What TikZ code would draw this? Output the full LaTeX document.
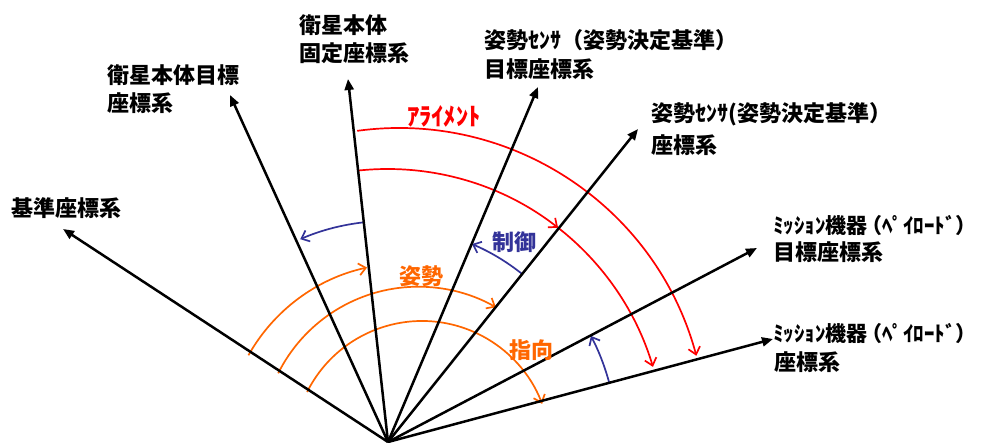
\documentclass[tikz,border=0pt]{standalone}
\usepackage{fontspec}
\newfontfamily\jp{Noto Sans CJK JP}
\usetikzlibrary{arrows.meta}
\definecolor{arcred}{RGB}{255,0,0}
\definecolor{arcorange}{RGB}{255,102,0}
\definecolor{arcblue}{RGB}{51,51,153}
\begin{document}
\begin{tikzpicture}[x=1pt,y=1pt,
  ray/.style={line width=2.5pt,-{Triangle[length=11pt,width=9pt]}},
  arcline/.style={line width=1.7pt,-{Straight Barb[length=7pt,width=12pt,line width=1.7pt]}},
  lbl/.style={font=\jp\bfseries\fontsize{22}{26}\selectfont,inner sep=0pt,anchor=base west},
  mlbl/.style={lbl,font=\jp\bfseries\fontsize{21}{25}\selectfont},
  clbl/.style={lbl}]
\useasboundingbox (0,0) rectangle (984,443);
% origin and ray tips
\coordinate (O) at (388,1);
\coordinate (t1) at (63,214);
\coordinate (t2) at (230,348);
\coordinate (t3) at (348,364);
\coordinate (t4) at (538,356);
\coordinate (t5) at (638,314);
\coordinate (t6) at (757,195);
\coordinate (t7) at (773,104);
% arc centres
\coordinate (cRo) at (399,7);
\coordinate (cRi) at (387.5,-3);
\coordinate (cA) at (405.4,-0.4);
\coordinate (cB) at (418.3,-0.4);
\coordinate (cC) at (422,-6.5);
% red arcs
\draw[arcline,arcred] ([shift={(97.8:308pt)}]cRo) arc[start angle=97.8,end angle=15.1,radius=308pt];
\draw[arcline,arcred] ([shift={(96.3:277pt)}]cRi) arc[start angle=96.3,end angle=52,radius=277pt];
\draw[arcline,arcred] ([shift={(52:277pt)}]cRi) arc[start angle=52,end angle=16.6,radius=277pt];
% blue arcs
\draw[arcline,arcblue] ([shift={(96.5:221pt)}]O) arc[start angle=96.5,end angle=113.4,radius=221pt];
\draw[arcline,arcblue] ([shift={(51.5:215pt)}]O) arc[start angle=51.5,end angle=67,radius=215pt];
\draw[arcline,arcblue] ([shift={(14.8:229pt)}]O) arc[start angle=14.8,end angle=27.6,radius=229pt];
% orange arcs
\draw[arcline,arcorange] ([shift={(150.7:180pt)}]cA) arc[start angle=150.7,end angle=102.3,radius=180pt];
\draw[arcline,arcorange] ([shift={(153.4:156.7pt)}]cB) arc[start angle=153.4,end angle=60.3,radius=156.7pt];
\draw[arcline,arcorange] ([shift={(153.4:128.5pt)}]cC) arc[start angle=153.4,end angle=20.8,radius=128.5pt];
% rays
\foreach \t in {t1,t2,t3,t4,t5,t6,t7} \draw[ray] (O) -- (\t);
% labels
\node[lbl] (L1) at (11,226.5) {基準座標系};
\node[lbl] (L2a) at (107,359.5) {衛星本体目標};
\node[lbl] (L2b) at (107,331.5) {座標系};
\node[lbl] (L3a) at (299,409.5) {衛星本体};
\node[lbl] (L3b) at (299,381.5) {固定座標系};
\node[lbl] (L4a) at (484,394.5) {姿勢ｾﾝｻ（姿勢決定基準）};
\node[lbl] (L4b) at (484,365.5) {目標座標系};
\node[lbl] (L5a) at (651,321.5) {姿勢ｾﾝｻ(姿勢決定基準）};
\node[lbl] (L5b) at (651,289.5) {座標系};
\node[mlbl] (L6a) at (773,209) {ﾐｯｼｮﾝ機器\kern-0.3em（ﾍﾟｲﾛｰﾄﾞ）};
\node[lbl] (L6b) at (773,182.5) {目標座標系};
\node[mlbl] (L7a) at (773,101.5) {ﾐｯｼｮﾝ機器\kern-0.3em（ﾍﾟｲﾛｰﾄﾞ）};
\node[lbl] (L7b) at (774,72.5) {座標系};
\node[clbl,text=arcred,font=\jp\bfseries\fontsize{24.5}{28}\selectfont] (Lal) at (407,317) {ｱﾗｲﾒﾝﾄ};
\node[clbl,text=arcblue] (Lct) at (492,192.5) {制御};
\node[clbl,text=arcorange] (Lat) at (399,158.5) {姿勢};
\node[clbl,text=arcorange] (Lpt) at (509,84.5) {指向};
\end{tikzpicture}
\end{document}
